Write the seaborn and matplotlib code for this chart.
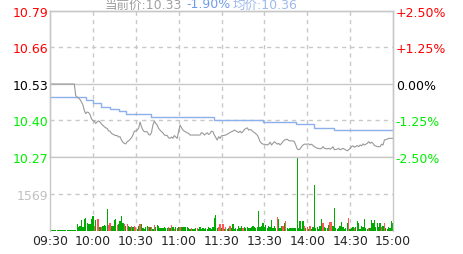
import matplotlib
matplotlib.use("Agg")
import matplotlib.pyplot as plt
import seaborn as sns
import pandas as pd

# ---------------- data ----------------
prev_close = 10.53
time_ticks = [0, 30, 60, 90, 120, 150, 180, 210, 240]
time_labels = ["09:30", "10:00", "10:30", "11:00", "11:30", "13:30", "14:00", "14:30", "15:00"]

price_min = [0, 17, 18, 19, 20, 21, 22, 23, 24, 25, 26, 27, 28, 29, 30, 31, 32, 33, 34, 35, 36, 38, 39, 40,
             41, 42, 43, 45, 46, 47, 48, 49, 50, 51, 52, 53, 54, 55, 56, 57, 58, 59, 60, 61, 62, 63, 64,
             65, 66, 68, 69, 70, 71, 72, 73, 74, 75, 76, 77, 78, 79, 80, 82, 83, 84, 85, 86, 87, 89, 90,
             91, 92, 93, 94, 96, 97, 98, 105, 106, 107, 108, 110, 111, 112, 113, 114, 115, 117, 118, 119,
             120, 121, 123, 125, 126, 127, 128, 129, 131, 132, 133, 134, 135, 136, 138, 139, 140, 141,
             142, 143, 145, 146, 147, 148, 149, 150, 152, 153, 154, 155, 156, 157, 159, 160, 161, 162,
             163, 164, 166, 167, 168, 170, 171, 173, 174, 175, 176, 177, 178, 180, 181, 182, 183, 184,
             185, 187, 188, 189, 190, 191, 192, 194, 195, 196, 197, 198, 199, 201, 202, 203, 204, 205,
             206, 208, 209, 210, 211, 212, 213, 215, 216, 217, 218, 219, 220, 222, 223, 224, 225, 226,
             227, 229, 230, 231, 232, 233, 234, 236, 237, 240]
price_val = [10.53, 10.53, 10.488, 10.483, 10.479, 10.474, 10.465, 10.455, 10.435, 10.423, 10.429, 10.427,
             10.42, 10.405, 10.398, 10.396, 10.388, 10.393, 10.397, 10.393, 10.386, 10.376, 10.372, 10.37,
             10.361, 10.36, 10.352, 10.346, 10.344, 10.344, 10.339, 10.34, 10.328, 10.32, 10.316, 10.314,
             10.322, 10.325, 10.33, 10.336, 10.346, 10.36, 10.36, 10.364, 10.37, 10.393, 10.376,
             10.364, 10.358, 10.358, 10.348, 10.346, 10.355, 10.382, 10.396, 10.388, 10.382, 10.37, 10.364,
             10.358, 10.354, 10.346, 10.344, 10.336, 10.334, 10.339, 10.334, 10.344, 10.334, 10.358,
             10.382, 10.372, 10.364, 10.36, 10.354, 10.352, 10.346, 10.346, 10.355, 10.352, 10.346,
             10.354, 10.348, 10.352, 10.36, 10.358, 10.346, 10.328, 10.34, 10.334,
             10.343, 10.344, 10.346, 10.352, 10.355, 10.358, 10.36, 10.364, 10.358, 10.355, 10.36, 10.354,
             10.358, 10.366, 10.372, 10.364, 10.366, 10.364,
             10.358, 10.355, 10.346, 10.336, 10.322, 10.316, 10.313, 10.313, 10.31, 10.313, 10.32, 10.31,
             10.316, 10.322, 10.313, 10.316, 10.31, 10.316,
             10.322, 10.328, 10.331, 10.326, 10.325, 10.325, 10.322, 10.296, 10.293, 10.296, 10.304, 10.31,
             10.313, 10.313, 10.314, 10.31, 10.313, 10.308,
             10.304, 10.298, 10.298, 10.296, 10.298, 10.304, 10.298, 10.296, 10.298, 10.295, 10.298, 10.304,
             10.293, 10.295, 10.298, 10.293, 10.295, 10.298,
             10.295, 10.289, 10.293, 10.298, 10.304, 10.307, 10.302, 10.308, 10.304, 10.31, 10.307, 10.314,
             10.31, 10.316, 10.322, 10.316, 10.32, 10.316,
             10.308, 10.304, 10.304, 10.304, 10.313, 10.31, 10.328, 10.331, 10.334, 10.334]

avg_min = [0, 25, 30, 36, 42, 48, 53, 71, 115, 149, 172, 185, 199, 240]
avg_val = [10.483, 10.474, 10.461, 10.446, 10.44, 10.432, 10.422, 10.411, 10.40, 10.393, 10.384,
           10.373, 10.363, 10.363]

volume = [40, 40, 40, 40, 40, 40, 40, 40, 40, 40,
          40, 40, 40, 40, 40, 40, 40, 40, 60, 290,
          180, 220, 454, 180, 523, 565, 360, 290, 290, 523,
          633, 220, 470, 495, 495, 180, 190, 220, 260, 220,
          950, 260, 330, 220, 220, 454, 495, 260, 290, 430,
          633, 360, 290, 220, 290, 220, 180, 220, 180, 220,
          180, 83, 220, 290, 290, 124, 83, 180, 193, 180,
          180, 150, 83, 248, 180, 260, 220, 124, 124, 124,
          150, 124, 124, 180, 124, 248, 150, 83, 150, 124,
          150, 180, 150, 180, 150, 180, 150, 124, 83, 124,
          83, 83, 124, 124, 83, 150, 83, 124, 83, 124,
          83, 150, 124, 83, 150, 537, 675, 124, 150, 290,
          110, 289, 83, 151, 83, 110, 193, 110, 289, 83,
          110, 83, 193, 110, 193, 110, 151, 110, 151, 110,
          124, 151, 193, 151, 110, 151, 868, 151, 193, 358,
          151, 248, 110, 220, 151, 454, 110, 220, 110, 606,
          496, 110, 220, 193, 330, 413, 138, 83, 138, 110,
          138, 110, 124, 3100, 110, 427, 83, 427, 220, 110,
          179, 83, 220, 83, 151, 1942, 110, 151, 83, 220,
          496, 358, 151, 110, 110, 248, 386, 386, 220, 978,
          110, 83, 110, 220, 386, 151, 83, 110, 358, 565,
          83, 110, 151, 110, 151, 427, 358, 83, 220, 151,
          496, 110, 83, 110, 110, 468, 330, 468, 151, 330,
          151, 358, 151, 220, 358, 110, 83, 151, 110, 427,
          358]
red_minutes = [31, 33, 34, 36, 41, 42, 47, 52, 54, 57, 59, 60, 63, 69, 71, 73, 83, 85, 87, 91, 99, 103,
               118, 119, 121, 123, 126, 135, 159, 163, 165, 178, 180, 182, 191, 196, 197, 209, 213,
               223, 232, 234]
vol_mid = 1569

pct_ticks = [-2.5, -1.25, 0.0, 1.25, 2.5]
pct_labels = ["-2.50%", "-1.25%", "0.00%", "+1.25%", "+2.50%"]
tick_colors = ["#00ee00", "#00ee00", "#000000", "#ff0000", "#ff0000"]

# ---------------- style ----------------
sns.set_style("white")
plt.rcParams["font.family"] = ["DejaVu Sans", "Noto Sans CJK SC"]
grid_c = "#c8c8c8"

fig = plt.figure(figsize=(4.63, 2.55), dpi=100)
W, H = 463, 255
ax = fig.add_axes([50 / W, 1 - 158 / H, 343 / W, 146 / H])
axv = fig.add_axes([50 / W, 1 - 232 / H, 343 / W, 74 / H])

lo = prev_close * (1 - 0.025)
hi = prev_close * (1 + 0.025)
price_ticks = [prev_close * (1 + p / 100) for p in pct_ticks]

# grid lines
for i, t in enumerate(price_ticks):
    if i in (1, 3):
        ax.axhline(t, color=grid_c, lw=1, ls=(0, (3, 3)), zorder=0)
    elif i == 2:
        ax.axhline(t, color=grid_c, lw=1, zorder=0)
for t in time_ticks[1:-1]:
    ax.axvline(t, color=grid_c, lw=1, ls=(0, (3, 3)), zorder=0)
    axv.axvline(t, color=grid_c, lw=1, ls=(0, (3, 3)), zorder=0)
axv.axhline(vol_mid, color=grid_c, lw=1, ls=(0, (3, 3)), zorder=0)

# lines
sns.lineplot(x=avg_min, y=avg_val, ax=ax, color="#8cb0ec", lw=1.0, drawstyle="steps-post",
             estimator=None, zorder=3)
sns.lineplot(x=price_min, y=price_val, ax=ax, color="#999999", lw=0.8, estimator=None, zorder=4)

ax.set_xlim(0, 240)
ax.set_ylim(lo, hi)
ax.set_yticks(price_ticks)
ax.set_yticklabels([f"{t:.2f}" for t in price_ticks])
for lab, c in zip(ax.get_yticklabels(), tick_colors):
    lab.set_color(c)
ax.set_xticks(time_ticks)
ax.set_xticklabels([])
ax.tick_params(axis="both", length=0, pad=1, labelsize=9)
ax.set_xlabel("")
ax.set_ylabel("")

ax2 = ax.twinx()
ax2.set_ylim(-2.5, 2.5)
ax2.set_yticks(pct_ticks)
ax2.set_yticklabels(pct_labels)
for lab, c in zip(ax2.get_yticklabels(), tick_colors):
    lab.set_color(c)
ax2.tick_params(axis="y", length=0, pad=2, labelsize=9)

for a in (ax, ax2):
    for s in a.spines.values():
        s.set_color(grid_c)
        s.set_linewidth(1)

# volume bars
minutes = list(range(len(volume)))
direction = ["up" if m in red_minutes else "down" for m in minutes]
vdf = pd.DataFrame({"m": minutes, "v": volume, "d": direction})
sns.barplot(data=vdf, x="m", y="v", hue="d", palette={"up": "#ff5555", "down": "#00aa00"},
            native_scale=True, width=0.9, dodge=False, legend=False, errorbar=None,
            saturation=1, ax=axv, zorder=2)
for p in axv.patches:
    p.set_linewidth(0)
axv.set_xlim(0, 240)
axv.set_ylim(0, vol_mid * 2)
axv.set_yticks([vol_mid])
axv.set_yticklabels([str(vol_mid)], color="#c0c0c0")
axv.set_xticks(time_ticks)
axv.set_xticklabels(time_labels)
axv.tick_params(axis="both", length=0, labelsize=9)
axv.tick_params(axis="y", pad=1)
axv.tick_params(axis="x", pad=2)
axv.set_xlabel("")
axv.set_ylabel("")
for k, s in axv.spines.items():
    s.set_color(grid_c)
    s.set_linewidth(1)
axv.spines["top"].set_visible(False)
axv.spines["bottom"].set_visible(False)

# header
ty = 1 - 5 / H
fig.text(105 / W, ty, "当前价:10.33", color="#a0a0a0", fontsize=9, va="center")
fig.text(186 / W, ty, "-1.90%", color="#6f9be6", fontsize=9, va="center")
fig.text(233 / W, ty, "均价:10.36", color="#9db9ef", fontsize=9, va="center")

fig.savefig("out.png", dpi=100)
